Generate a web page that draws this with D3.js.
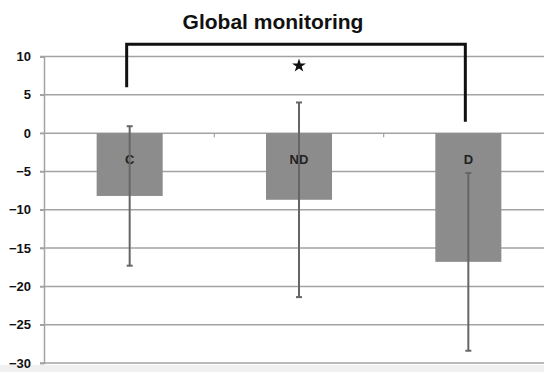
<!DOCTYPE html>
<html>
<head>
<meta charset="utf-8">
<script src="https://cdn.jsdelivr.net/npm/d3@7.9.0/dist/d3.min.js"></script>
<style>
  body { margin: 0; background: #fff; }
  svg { display: block; font-family: Arial, "Liberation Sans", sans-serif; }
</style>
</head>
<body>
<svg width="544" height="372"></svg>
<script>
// data
const groups = ['C', 'ND', 'D'];
const means = [-8.2, -8.7, -16.8];
const errors = [9.1, 12.7, 11.6];
const yTicks = [10, 5, 0, -5, -10, -15, -20, -25, -30];

// significance bracket (C vs D), in data units
const bracketTop = 11.6;
const bracketEnds = [6.0, 1.5];
const starValue = 8.8;

const svg = d3.select('svg');

// light strip under the plot
svg.append('rect').attr('x', 0).attr('y', 365).attr('width', 544).attr('height', 7).attr('fill', '#f0f0f0');

const x = d3.scaleBand().domain(groups).range([45, 553]).paddingInner(0.61).paddingOuter(0.305);
const y = d3.scaleLinear().domain([-30, 10]).range([363, 56.5]);

// gridlines
svg.append('g')
  .selectAll('line')
  .data(yTicks)
  .join('line')
  .attr('x1', 40).attr('x2', 544)
  .attr('y1', d => y(d)).attr('y2', d => y(d))
  .attr('stroke', '#a3a3a3').attr('stroke-width', 1.5);

// y axis
const yAxis = svg.append('g')
  .attr('transform', 'translate(44,0)')
  .call(d3.axisLeft(y).tickValues(yTicks).tickSize(4).tickPadding(9));
yAxis.select('.domain').attr('stroke', '#a3a3a3').attr('stroke-width', 1.5);
yAxis.selectAll('.tick line').attr('stroke', '#a3a3a3').attr('stroke-width', 1.5);
yAxis.selectAll('.tick text')
  .attr('fill', '#111').attr('font-size', 13).attr('font-weight', 'bold')
  .attr('font-family', 'Arial, "Liberation Sans", sans-serif');

// category boundary ticks on the zero line
const bounds = groups.slice(1).map(g => x(g) - x.step() * x.paddingInner() / 2);
svg.append('g')
  .selectAll('line')
  .data(bounds)
  .join('line')
  .attr('x1', d => d).attr('x2', d => d)
  .attr('y1', y(0)).attr('y2', y(0) + 4)
  .attr('stroke', '#a3a3a3').attr('stroke-width', 1.2);

// bars
svg.append('g')
  .selectAll('rect')
  .data(groups)
  .join('rect')
  .attr('x', d => x(d))
  .attr('width', x.bandwidth())
  .attr('y', y(0))
  .attr('height', (d, i) => y(means[i]) - y(0))
  .attr('fill', '#8c8c8c');

// bar labels
svg.append('g')
  .selectAll('text')
  .data(groups)
  .join('text')
  .attr('x', d => x(d) + x.bandwidth() / 2)
  .attr('y', y(-3.4))
  .attr('dy', '0.35em')
  .attr('text-anchor', 'middle')
  .attr('font-size', 13).attr('font-weight', 'bold')
  .attr('fill', '#222')
  .text(d => d);

// error bars
const eb = svg.append('g').attr('stroke', '#666').attr('stroke-width', 2);
groups.forEach((g, i) => {
  const cx = x(g) + x.bandwidth() / 2;
  const hi = means[i] + errors[i], lo = means[i] - errors[i];
  eb.append('line').attr('x1', cx).attr('x2', cx).attr('y1', y(hi)).attr('y2', y(lo));
  eb.append('line').attr('x1', cx - 3).attr('x2', cx + 3).attr('y1', y(hi)).attr('y2', y(hi));
  eb.append('line').attr('x1', cx - 3).attr('x2', cx + 3).attr('y1', y(lo)).attr('y2', y(lo));
});

// bracket
const bx1 = x('C') + x.bandwidth() / 2 - 3;
const bx2 = x('D') + x.bandwidth() / 2 - 3;
svg.append('path')
  .attr('d', d3.line()([[bx1, y(bracketEnds[0])], [bx1, y(bracketTop)], [bx2, y(bracketTop)], [bx2, y(bracketEnds[1])]]))
  .attr('fill', 'none').attr('stroke', '#111').attr('stroke-width', 3);

// star
svg.append('path')
  .attr('d', d3.symbol(d3.symbolStar, 60)())
  .attr('transform', `translate(${x('ND') + x.bandwidth() / 2},${y(starValue)})`)
  .attr('fill', '#111');

// title
svg.append('text')
  .attr('x', 273).attr('y', 29)
  .attr('text-anchor', 'middle')
  .attr('font-size', 21).attr('font-weight', 'bold')
  .attr('fill', '#111')
  .text('Global monitoring');
</script>
</body>
</html>
